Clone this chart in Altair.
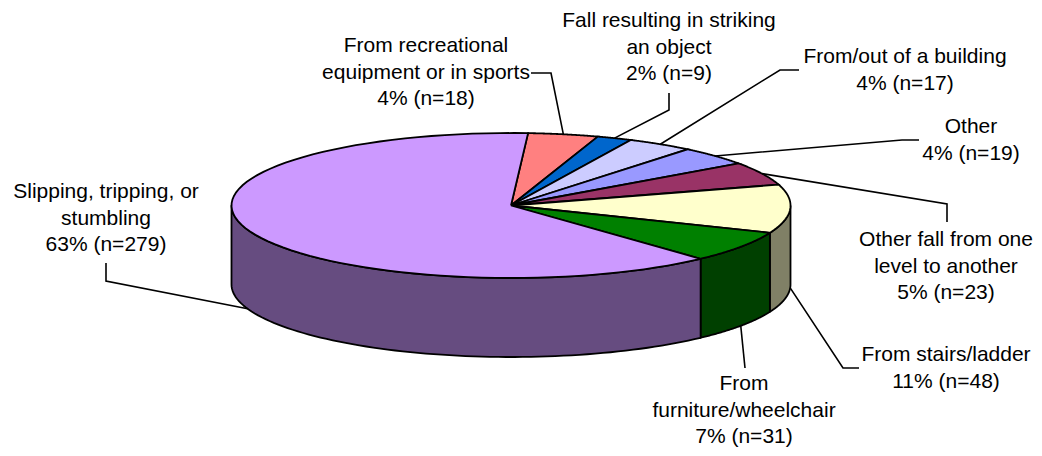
import numpy as np
import pandas as pd
import altair as alt

# ---------------- data ----------------
categories = [
    "From recreational\nequipment or in sports",
    "Fall resulting in striking\nan object",
    "From/out of a building",
    "Other",
    "Other fall from one\nlevel to another",
    "From stairs/ladder",
    "From\nfurniture/wheelchair",
    "Slipping, tripping, or\nstumbling",
]
counts = [18, 9, 17, 19, 23, 48, 31, 279]

# ---------------- styles ----------------
top_colors = ["#FF8080", "#0066CC", "#CCCCFF", "#9999FF", "#993366", "#FFFFCC", "#008000", "#CC99FF"]
side_colors = ["#804040", "#003366", "#666680", "#4D4D80", "#4D1A33", "#808066", "#004000", "#664C80"]

# ---------------- layout (page pixels) ----------------
CX, CY, RX, RY, DEPTH = 511.0, 205.5, 279.5, 72.5, 79.0
START_DEG = 3.5
LINE_GAP = 26.5
label_pos = [(426, 46), (669, 21), (905, 57), (971, 127), (946, 240), (946, 355), (744, 384), (106, 192)]
leader_elbows = [
    [(531, 73), (551, 73)],
    [(669, 93), (669, 110)],
    [(799, 70), (780, 70)],
    [(919, 140), (902, 140)],
    [(947, 222), (947, 204)],
    [(859, 368), (843, 368)],
    [(745, 368)],
    [(106, 263), (106, 281)],
]

total = float(sum(counts))


def rim(t_deg, dy=0.0):
    t = np.radians(t_deg)
    return CX + RX * np.sin(t), CY - RY * np.cos(t) + dy


cum = np.concatenate([[0.0], np.cumsum(counts)])
starts = START_DEG + 360.0 * cum[:-1] / total
ends = START_DEG + 360.0 * cum[1:] / total

top_rows, side_rows, lead_rows, text_rows = [], [], [], []
for i, cat in enumerate(categories):
    a, b = starts[i], ends[i]
    # top face wedge
    pts = [(CX, CY)]
    for t in np.linspace(a, b, 80):
        pts.append(rim(t))
    pts.append((CX, CY))
    for k, (x, y) in enumerate(pts):
        top_rows.append({"id": i, "ord": k, "x": x, "y": y, "c": top_colors[i]})
    # visible front side
    lo, hi = max(a, 90.0), min(b, 270.0)
    if lo < hi:
        ts = np.linspace(lo, hi, 80)
        spts = [rim(t) for t in ts] + [rim(t, DEPTH) for t in ts[::-1]] + [rim(lo)]
        for k, (x, y) in enumerate(spts):
            side_rows.append({"id": i, "ord": k, "x": x, "y": y, "c": side_colors[i]})
    # leader line: label elbows -> slice mid point on the rim
    m = (a + b) / 2.0
    end = rim(m, DEPTH) if 90.0 < m < 270.0 else rim(m)
    lpts = list(leader_elbows[i]) + [end]
    for k, (x, y) in enumerate(lpts):
        lead_rows.append({"id": i, "ord": k, "x": x, "y": y})
    # label text lines
    pct = int(round(100.0 * counts[i] / total))
    lines = cat.split("\n") + [f"{pct}% (n={counts[i]})"]
    lx, ly = label_pos[i]
    for k, s in enumerate(lines):
        text_rows.append({"x": lx, "y": ly + k * LINE_GAP, "t": s})

W, H = 1026, 440
xs = alt.Scale(domain=[8, 8 + W], nice=False, zero=False)
ys = alt.Scale(domain=[8, 8 + H], nice=False, zero=False, reverse=True)
X = alt.X("x:Q", scale=xs, axis=None)
Y = alt.Y("y:Q", scale=ys, axis=None)

sides = alt.Chart(pd.DataFrame(side_rows)).mark_line(
    stroke="black", strokeWidth=1.8, strokeJoin="round"
).encode(x=X, y=Y, detail="id:N", order="ord:Q", fill=alt.Fill("c:N", scale=None))

tops = alt.Chart(pd.DataFrame(top_rows)).mark_line(
    stroke="black", strokeWidth=1.8, strokeJoin="miter"
).encode(x=X, y=Y, detail="id:N", order="ord:Q", fill=alt.Fill("c:N", scale=None))

leaders = alt.Chart(pd.DataFrame(lead_rows)).mark_line(
    stroke="black", strokeWidth=1.6
).encode(x=X, y=Y, detail="id:N", order="ord:Q")

texts = alt.Chart(pd.DataFrame(text_rows)).mark_text(
    font="Liberation Sans", fontSize=21, color="black", align="center", baseline="middle"
).encode(x=X, y=Y, text="t:N")

chart = alt.layer(sides, tops, leaders, texts).properties(
    width=W, height=H, padding=0, autosize=alt.AutoSizeParams(type="none")
).configure_view(stroke=None)

chart.save("out.html", embed_options={"renderer": "svg", "actions": False})
